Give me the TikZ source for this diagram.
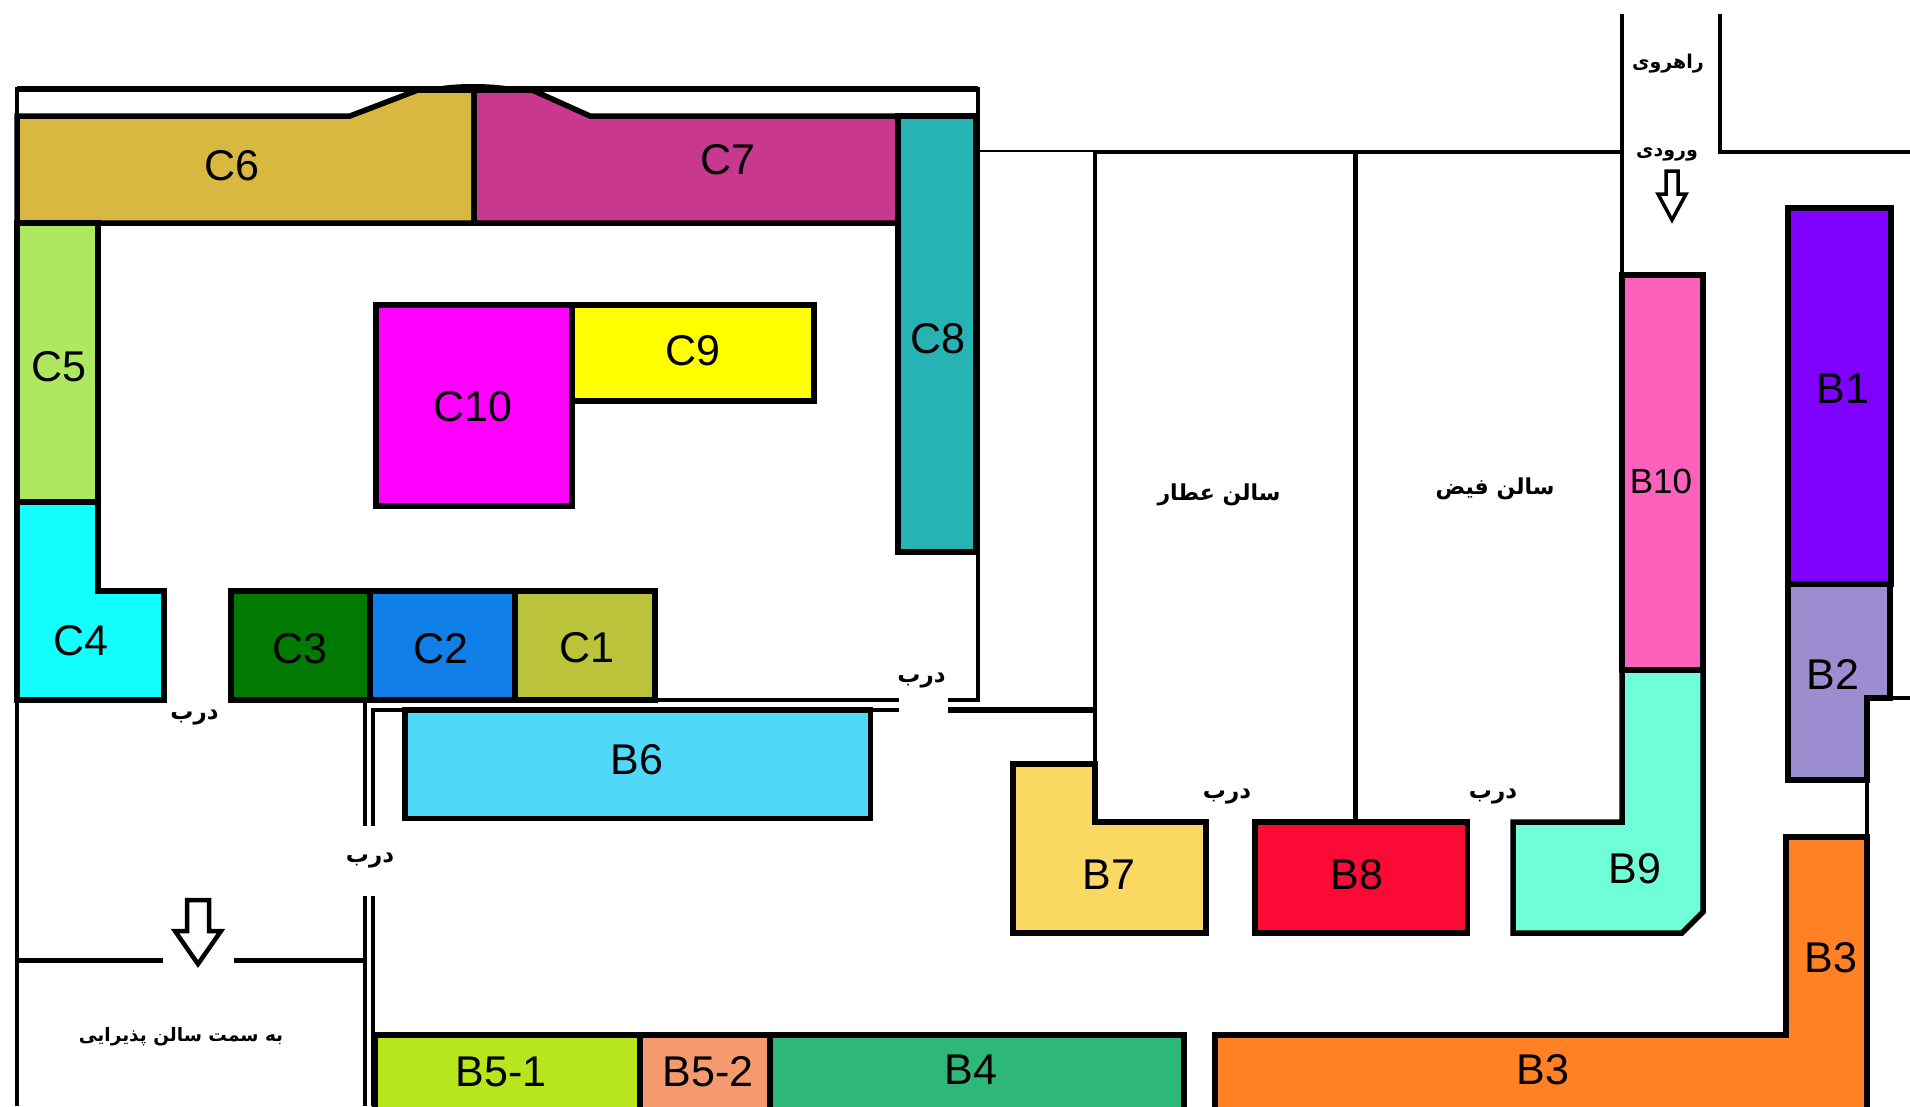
\documentclass[tikz,border=0pt]{standalone}
\usepackage{fontspec}
\setmainfont{Liberation Sans}
\newfontfamily\arabicfont[Script=Arabic]{DejaVu Sans Bold}
\TeXXeTstate=1
\definecolor{cCsix}{HTML}{D8B840}
\definecolor{cCseven}{HTML}{C8388F}
\definecolor{cCeight}{HTML}{27B3B3}
\definecolor{cCfive}{HTML}{AEE860}
\definecolor{cCfour}{HTML}{11FFFF}
\definecolor{cCthree}{HTML}{007A00}
\definecolor{cCtwo}{HTML}{1080E8}
\definecolor{cCone}{HTML}{BBC33A}
\definecolor{cCten}{HTML}{FF00FF}
\definecolor{cCnine}{HTML}{FFFF00}
\definecolor{cBsix}{HTML}{50D8FA}
\definecolor{cBfivea}{HTML}{B8E61C}
\definecolor{cBfiveb}{HTML}{F59A6E}
\definecolor{cBfour}{HTML}{2EB877}
\definecolor{cBthree}{HTML}{FF8124}
\definecolor{cBseven}{HTML}{FBD862}
\definecolor{cBeight}{HTML}{FB0A35}
\definecolor{cBnine}{HTML}{6FFFD8}
\definecolor{cBten}{HTML}{FC62BC}
\definecolor{cBone}{HTML}{7F00FF}
\definecolor{cBtwo}{HTML}{9C8CD0}
\tikzset{
  x=1pt,y=-1pt,
  wall/.style={draw=black,line width=4.5pt,line cap=butt,line join=miter},
  thinwall/.style={draw=black,line width=1.5pt},
  stall/.style={draw=black,line width=5.5pt,line join=miter},
  lab/.style={inner sep=0pt,yshift=-1.5pt,font=\fontsize{43}{43}\selectfont,text=black},
  fa/.style={inner sep=0pt,font=\arabicfont\fontsize{#1}{#1}\selectfont,text=black},
  fa/.default=26,
  doorlab/.style={inner sep=1pt,fill=white,font=\arabicfont\fontsize{23}{23}\selectfont,text=black},
  bigarrow/.style={draw=black,line width=4.5pt,fill=white,line join=miter},
}
\begin{document}
\begin{tikzpicture}
\useasboundingbox (0,0) rectangle (1910,1106);
\clip (0,0) rectangle (1910,1106);
% outer walls
\draw[wall,line width=5.5pt] (17,89) -- (978,89);
\draw[wall] (978,87) -- (978,702);
\draw[wall] (17,87) -- (17,1106);
\draw[line width=2pt] (436,88) .. controls (455,84) and (490,84) .. (512,88);
\draw[thinwall] (978,151) -- (1095,151);
\draw[wall] (1095,152) -- (1095,822);
\draw[wall,line width=5.5pt] (1355.5,152) -- (1355.5,822);
\draw[wall] (1093,152) -- (1622,152);
\draw[wall] (1622,14) -- (1622,822);
\draw[wall] (1720,14) -- (1720,152) -- (1910,152);
\draw[wall] (1867,1106) -- (1867,698) -- (1910,698);
% horizontal walls mid
\draw[wall] (655,700) -- (899,700);
\draw[wall] (948,700) -- (978,700);
\draw[wall] (373,710) -- (899,710);
\draw[wall,line width=6pt] (948,710) -- (1095,710);
\draw[wall] (365,698) -- (365,826);
\draw[wall] (373,708) -- (373,826);
\draw[wall] (365,896) -- (365,1106);
\draw[wall] (373,896) -- (373,1106);
\draw[wall] (17,960.5) -- (163,960.5);
\draw[wall] (234,960.5) -- (365,960.5);
% stalls C
\draw[stall,fill=cCsix] (17,116) -- (350,116) -- (418,90) -- (474,90) -- (474,223) -- (17,223) -- cycle;
\draw[stall,fill=cCseven] (474,90) -- (532,90) -- (590,116) -- (898,116) -- (898,223) -- (474,223) -- cycle;
\draw[stall,fill=cCeight] (898,116) -- (976,116) -- (976,552) -- (898,552) -- cycle;
\draw[stall,fill=cCfive] (17,223) -- (98,223) -- (98,502) -- (17,502) -- cycle;
\draw[stall,fill=cCten] (376,305) -- (572,305) -- (572,506) -- (376,506) -- cycle;
\draw[stall,fill=cCnine] (572,305) -- (814,305) -- (814,401) -- (572,401) -- cycle;
\draw[stall,fill=cCfour] (17,502) -- (98,502) -- (98,591) -- (164,591) -- (164,700) -- (17,700) -- cycle;
\draw[stall,fill=cCthree] (231,591) rectangle (370,700);
\draw[stall,fill=cCtwo] (370,591) rectangle (515,700);
\draw[stall,fill=cCone] (515,591) rectangle (655,700);
% stalls B
\draw[stall,fill=cBsix] (405,710) rectangle (870.5,818.5);
\draw[stall,fill=cBfivea] (375,1035) rectangle (640,1115);
\draw[stall,fill=cBfiveb] (640,1035) rectangle (770,1115);
\draw[stall,fill=cBfour] (770,1035) rectangle (1184,1115);
\draw[stall,fill=cBthree] (1215,1115) -- (1215,1035) -- (1786,1035) -- (1786,837) -- (1867,837) -- (1867,1115) -- cycle;
\draw[stall,fill=cBseven] (1013,764) -- (1095,764) -- (1095,822) -- (1206,822) -- (1206,933) -- (1013,933) -- cycle;
\draw[stall,fill=cBeight] (1255,822) rectangle (1467.5,933);
\draw[stall,fill=cBnine] (1513,822) -- (1622,822) -- (1622,670) -- (1703,670) -- (1703,912) -- (1682,933) -- (1513,933) -- cycle;
\draw[stall,fill=cBten] (1622,275) rectangle (1703,670);
\draw[stall,fill=cBone] (1788,208) rectangle (1891,584);
\draw[stall,fill=cBtwo] (1788,584) -- (1890,584) -- (1890,698) -- (1867,698) -- (1867,780) -- (1788,780) -- cycle;
% arrows
\draw[bigarrow] (187,900) -- (209,900) -- (209,931) -- (221,931) -- (198,964) -- (175,931) -- (187,931) -- cycle;
\draw[bigarrow,line width=3.5pt] (1666,171) -- (1678,171) -- (1678,194) -- (1686,194) -- (1672,220) -- (1658,194) -- (1666,194) -- cycle;
% labels
\node[lab] (C6) at (231.5,164) {C6};
\node[lab] (C7) at (728,158.5) {C7};
\node[lab] (C8) at (938,337) {C8};
\node[lab] (C5) at (59,365.5) {C5};
\node[lab] (C10) at (473,405) {C10};
\node[lab] (C9) at (692.5,349) {C9};
\node[lab] (C4) at (81,639) {C4};
\node[lab] (C3) at (300,647) {C3};
\node[lab] (C2) at (441,647) {C2};
\node[lab] (C1) at (587,646) {C1};
\node[lab] (B6) at (637,758) {B6};
\node[lab] (B51) at (501,1070) {B5-1};
\node[lab] (B52) at (708,1070) {B5-2};
\node[lab] (B4) at (971,1068) {B4};
\node[lab] (B3a) at (1543,1068) {B3};
\node[lab] (B3b) at (1830.6,956) {B3};
\node[lab] (B7) at (1109,873.6) {B7};
\node[lab] (B8) at (1357,873.6) {B8};
\node[lab] (B9) at (1634.6,867) {B9};
\node[lab] (B2) at (1833,673) {B2};
\node[lab] (B1) at (1843,387.5) {B1};
\node[lab,font=\fontsize{35}{35}\selectfont] (B10) at (1661,480) {B10};
% Persian labels
\node[fa=22] (salonA) at (1219,495) {\beginR سالن عطار\endR};
\node[fa=22] (salonF) at (1495,489) {\beginR سالن فیض\endR};
\node[fa=19] (corr) at (1668,64) {\beginR راهروی\endR};
\node[fa=19] (entr) at (1667,154) {\beginR ورودی\endR};
\node[fa=18.5] (recv) at (181,1037) {\beginR به سمت سالن پذیرایی\endR};
\node[doorlab] (d1) at (194.5,718) {\beginR درب\endR};
\node[doorlab] (d2) at (370,861) {\beginR درب\endR};
\node[doorlab] (d3) at (921.5,681) {\beginR درب\endR};
\node[doorlab] (d4) at (1227,797) {\beginR درب\endR};
\node[doorlab] (d5) at (1493,797) {\beginR درب\endR};
\end{tikzpicture}
\end{document}
